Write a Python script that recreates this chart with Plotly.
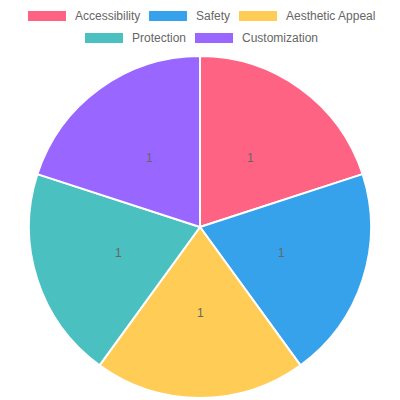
#!/usr/bin python3

# Python:
from math import sin, cos, pi

# 3rd party:
from plotly import graph_objects as go

# Data
labels = ["Accessibility", "Safety", "Aesthetic Appeal", "Protection", "Customization"]
values = [1, 1, 1, 1, 1]
colours = ["#ff6384", "#36a2eb", "#ffcd56", "#4bc0c0", "#9966ff"]

FONT = "Liberation Sans, Arial, sans-serif"
TEXT_COLOUR = "#666666"

# pie geometry in pixels (400x400 canvas)
CX, CY, R = 200, 227, 171

fig = go.Figure(
    go.Pie(
        labels=labels,
        values=values,
        sort=False,
        direction="clockwise",
        rotation=0,
        marker={"colors": colours, "line": {"color": "#ffffff", "width": 2}},
        textinfo="none",
        hoverinfo="label+value",
        domain={"x": [(CX - R) / 400, (CX + R) / 400],
                "y": [1 - (CY + R) / 400, 1 - (CY - R) / 400]},
        showlegend=False,
    )
)

annotations = []

# value labels at mid-radius, mid-angle (chart.js datalabels style)
total = sum(values)
cum = 0
for v in values:
    theta = 2 * pi * (cum + v / 2) / total
    cum += v
    px = CX + 0.5 * R * sin(theta)
    py = CY - 0.5 * R * cos(theta)
    annotations.append(dict(
        text=str(v), xref="paper", yref="paper",
        x=px / 400, y=1 - py / 400,
        xanchor="center", yanchor="middle", showarrow=False,
        font={"family": FONT, "size": 12, "color": TEXT_COLOUR},
    ))

# Legend drawn by hand, chart.js style (box + label)
legend_pos = [(28, 16), (149, 16), (239, 16), (85, 38), (195, 38)]
box_w, box_h = 38, 10

shapes = []
for i, (x, y) in enumerate(legend_pos):
    shapes.append(dict(
        type="rect", xref="paper", yref="paper",
        x0=x / 400, x1=(x + box_w) / 400,
        y0=1 - (y + box_h / 2) / 400, y1=1 - (y - box_h / 2) / 400,
        fillcolor=colours[i], line={"width": 0},
    ))
    annotations.append(dict(
        text=labels[i], xref="paper", yref="paper",
        x=(x + box_w + 7) / 400, y=1 - y / 400,
        xanchor="left", yanchor="middle", showarrow=False,
        font={"family": FONT, "size": 12, "color": TEXT_COLOUR},
    ))

fig.update_layout(
    width=400,
    height=400,
    autosize=False,
    margin={"l": 0, "r": 0, "t": 0, "b": 0},
    paper_bgcolor="#ffffff",
    plot_bgcolor="#ffffff",
    shapes=shapes,
    annotations=annotations,
)

fig.write_html(
    "out.html",
    config={"displayModeBar": False},
    post_script="document.body.style.margin='0';",
)
